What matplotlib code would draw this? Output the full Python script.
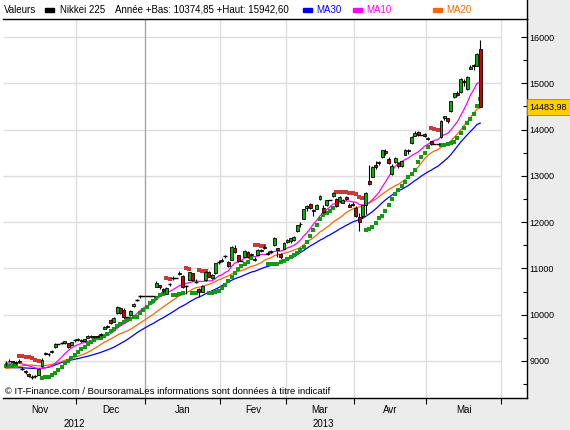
import numpy as np
import pandas as pd
import matplotlib
matplotlib.use("Agg")
import matplotlib.pyplot as plt
from matplotlib.patches import Rectangle
from matplotlib.lines import Line2D
from matplotlib.transforms import blended_transform_factory

plt.rcParams['font.family'] = ['Liberation Sans', 'DejaVu Sans']

# Nikkei 225, one entry per weekday from 1 Nov 2012 to 23 May 2013
# (market holidays repeat the previous close)
opens = [
    8960, 8990, 8990, 8950, 9010, 8840, 8790, 8720, 8665, 8670, 8700, 8890, 9180, 9150, 9200, 9300, 9367, 9400, 9380, 9380, 9350, 9440,
    9470, 9450, 9440, 9500, 9540, 9510, 9540, 9560, 9700, 9750, 9880, 9850, 10030, 10150, 10100, 9940, 9990, 10180, 10320, 10390, 10395,
    10395, 10395, 10395, 10604, 10640, 10560, 10450, 10660, 10800, 10802, 10900, 10840, 10620, 10750, 10900, 10700, 10560, 10500, 10740, 10930, 10800, 10900, 11140,
    11150, 11250, 11130, 11190, 11450, 11290, 11153, 11250, 11350, 11290, 11200, 11300, 11390, 11450, 11330, 11360, 11500, 11450, 11320, 11420,
    11580, 11600, 11620, 11800, 11950, 12070, 12300, 12390, 12270, 12290, 12500, 12300, 12380, 12468, 12560, 12500, 12460, 12420, 12540, 12360, 12380,
    12310, 12120, 12130, 12370, 12890, 12980, 13230, 13300, 13400, 13540, 13370, 13030, 13300, 13280, 13220, 13460, 13560, 13700, 13870, 13950, 13884, 13900,
    13820, 13750, 13694, 13694, 13830, 14240, 14250, 14400, 14700, 14800, 14810, 15050, 14880, 15320, 15400, 15380, 15735]
highs = [
    8990, 9040, 9000, 8990, 9050, 8860, 8810, 8730, 8700, 8690, 8840, 9060, 9200, 9180, 9230, 9380, 9367, 9420, 9440, 9390, 9410, 9470,
    9490, 9470, 9480, 9560, 9560, 9550, 9560, 9600, 9760, 9770, 9910, 9950, 10190, 10170, 10140, 9940, 10100, 10250, 10350, 10420, 10395,
    10395, 10395, 10395, 10734, 10650, 10580, 10590, 10680, 10830, 10802, 10950, 10850, 10640, 10930, 10910, 10780, 10580, 10640, 10940, 10950, 10880, 11120, 11180,
    11220, 11300, 11150, 11480, 11500, 11300, 11153, 11390, 11370, 11330, 11250, 11410, 11410, 11500, 11370, 11400, 11670, 11450, 11340, 11570,
    11640, 11660, 11700, 11940, 12000, 12290, 12380, 12420, 12290, 12400, 12580, 12370, 12480, 12468, 12650, 12520, 12560, 12500, 12560, 12420, 12430,
    12340, 12200, 12380, 12650, 13225, 13220, 13330, 13320, 13560, 13570, 13400, 13250, 13400, 13290, 13330, 13590, 13580, 13860, 13960, 13980, 13884, 13920,
    13850, 13760, 13694, 13694, 14200, 14300, 14260, 14620, 14800, 14830, 15110, 15100, 15150, 15400, 15420, 15660, 15942.6]
lows = [
    8900, 8970, 8940, 8930, 8960, 8800, 8720, 8660, 8620, 8640, 8690, 8880, 9130, 9110, 9170, 9290, 9367, 9370, 9370, 9290, 9330, 9420,
    9440, 9420, 9420, 9490, 9500, 9500, 9510, 9540, 9690, 9720, 9800, 9840, 10020, 10020, 9900, 9940, 9980, 10160, 10300, 10370, 10395,
    10395, 10395, 10395, 10598, 10550, 10470, 10440, 10610, 10760, 10802, 10860, 10580, 10440, 10740, 10720, 10680, 10375, 10490, 10730, 10810, 10780, 10890, 11100,
    11130, 11230, 11040, 11180, 11330, 11130, 11153, 11240, 11230, 11260, 11150, 11290, 11360, 11430, 11290, 11330, 11490, 11250, 11200, 11410,
    11550, 11560, 11600, 11790, 11900, 12060, 12250, 12290, 12140, 12280, 12480, 12200, 12350, 12468, 12540, 12330, 12440, 12410, 12470, 12320, 12350,
    12120, 11800, 12100, 12170, 12800, 12970, 13150, 13230, 13390, 13450, 13250, 13020, 13280, 13170, 13200, 13450, 13480, 13690, 13860, 13860, 13884, 13840,
    13780, 13670, 13694, 13694, 13820, 14200, 14150, 14390, 14680, 14720, 14800, 14940, 14860, 15300, 15290, 15370, 14483.98]
closes = [
    8946, 9007, 8975, 8974, 8973, 8837, 8758, 8676, 8661, 8665, 8830, 9024, 9153, 9143, 9223, 9367, 9367, 9389, 9423, 9308, 9401, 9446,
    9458, 9432, 9469, 9545, 9527, 9534, 9525, 9581, 9743, 9738, 9829, 9923, 10160, 10039, 9940, 9940, 10080, 10230, 10323, 10395, 10395,
    10395, 10395, 10395, 10688, 10599, 10508, 10579, 10653, 10802, 10802, 10879, 10600, 10610, 10913, 10748, 10710, 10487, 10621, 10927, 10824, 10867, 11114, 11139,
    11191, 11260, 11047, 11464, 11357, 11153, 11153, 11369, 11251, 11307, 11174, 11408, 11372, 11468, 11309, 11386, 11663, 11399, 11254, 11559,
    11606, 11652, 11683, 11932, 11968, 12284, 12349, 12315, 12240, 12381, 12561, 12221, 12468, 12468, 12636, 12339, 12546, 12472, 12494, 12336, 12398,
    12135, 12003, 12362, 12635, 12834, 13193, 13192, 13288, 13549, 13485, 13276, 13221, 13383, 13220, 13316, 13568, 13530, 13843, 13926, 13884, 13884, 13861,
    13799, 13694, 13694, 13694, 14180, 14286, 14191, 14608, 14782, 14758, 15096, 15037, 15138, 15361, 15381, 15627, 14483.98]

# closes of the 30 weekdays before 1 Nov, needed for the moving averages
pre_closes = [8986, 9110, 9069, 9091, 8906, 8949, 8870, 8797, 8786, 8746, 8824, 8863, 8863, 8769, 8596,
              8546, 8534, 8577, 8701, 8807, 8982, 9002, 9010, 8932, 8955, 9055, 8933, 8929, 8841, 8928]

# parabolic SAR dots
sar = [
    8885, 8885, 8900, 8920, 9110, 9108, 9093, 9080, 9058, 9030, 9000, 8640, 8648, 8660, 8698, 8747, 8806, 8877, 8950, 9006, 9071, 9130,
    9188, 9253, 9309, 9367, 9417, 9460, 9490, 9505, 9530, 9580, 9640, 9700, 9760, 9800, 9835, 9880, 9900, 9944, 9944, 10030, 10102,
    10173, 10245, 10296, 10367, 10425, 10450, 10790, 10771, 10425, 10425, 10440, 10470, 11000, 10987, 10460, 10470, 10960, 10950, 10940, 10470, 10470, 10500, 10519,
    10570, 10642, 10735, 10821, 10907, 10981, 11052, 11100, 11145, 11220, 11505, 11500, 11495, 11490, 11095, 11095, 11100, 11100, 11130, 11160,
    11200, 11240, 11290, 11340, 11400, 11456, 11570, 11706, 11820, 11931, 12061, 12154, 12200, 12234, 12305, 12660, 12655, 12650, 12645, 12640, 12620,
    12600, 12550, 12520, 11830, 11851, 11901, 11990, 12082, 12132, 12246, 12370, 12493, 12600, 12694, 12780, 12873, 12968, 13050, 13126, 13305, 13413, 13500,
    13616, 14030, 14010, 13990, 13666, 13666, 13680, 13700, 13737, 13810, 13918, 14026, 14134, 14220, 14335, 14508, 14660]
# g = dot below the price (green), r = dot above the price (red), one letter per weekday
sar_side = ("ggggrrrrrrrggggggggggg"
            "ggggggggggggggggggggg"
            "ggggggrrggggrrggrrrgggg"
            "ggggggggggrrrrgggggg"
            "gggggggggggggggrrrrrr"
            "rrrggggggggggggggggggg"
            "grrrggggggggggggg")

months = ['Nov', 'Dec', 'Jan', 'Fev', 'Mar', 'Avr', 'Mai']
month_starts = [0, 22, 43, 66, 86, 107, 129, 152]
years = ['2012', '2013']
year_spans = [(0, 43), (43, 152)]
year_low = 10374.85
year_high = 15942.60

W, H = 570, 430
fig = plt.figure(figsize=(W / 100, H / 100), dpi=100)
fig.patch.set_facecolor('#ECECEC')


def fx(px):
    return px / W


def fy(py):
    return 1 - py / H


fig.add_artist(Rectangle((0, fy(398)), fx(527), 398 / H, transform=fig.transFigure,
                         facecolor='white', edgecolor='none', zorder=0))

ax = fig.add_axes([fx(3), fy(398), fx(524), (398 - 19) / H])
ax.set_facecolor('white')
ax.set_xlim(-0.92, 159.3)
ax.set_ylim(8200, 16390)

idx = np.arange(len(closes))
o = np.array(opens, float)
hi = np.array(highs, float)
lo = np.array(lows, float)
c = np.array(closes, float)

# grid
bounds = [s - 0.5 for s in month_starts[1:]]
ax.hlines(range(9000, 16001, 1000), ax.get_xlim()[0], bounds[-1], color='#DEDEDE', lw=1.0, zorder=0)
for b in bounds:
    ax.axvline(b, color='#A6A6A6' if b == 42.5 else '#DEDEDE', lw=1.0, zorder=0)

# moving averages
full = pd.Series(pre_closes + closes, dtype=float)
n_pre = len(pre_closes)
for win, col in [(30, '#0000FF'), (20, '#FF6600'), (10, '#FF00FF')]:
    ma = full.rolling(win).mean().to_numpy()[n_pre:]
    ax.plot(idx, ma, color=col, lw=0.9, zorder=2)

# parabolic SAR
sar_a = np.array(sar, float)
side = np.array(list(sar_side))
ax.plot(idx[side == 'g'], sar_a[side == 'g'], 's', color='#119911', ms=2.3, mew=0, zorder=3)
ax.plot(idx[side == 'r'], sar_a[side == 'r'], 's', color='#C83A3A', ms=2.3, mew=0, zorder=3)

# candles
ax.vlines(idx, lo, hi, color='black', lw=0.8, zorder=4)
body = np.abs(c - o)
flat = body < 12
up = (c > o) & ~flat
dn = (c < o) & ~flat
ax.bar(idx[up], body[up], bottom=o[up], width=0.9, color='#00B400', edgecolor='black', lw=0.6, zorder=5)
ax.bar(idx[dn], body[dn], bottom=c[dn], width=0.9, color='#D00000', edgecolor='black', lw=0.6, zorder=5)
ax.hlines(c[flat], idx[flat] - 0.6, idx[flat] + 0.6, color='black', lw=1.0, zorder=5)

# axes styling
ax.spines['left'].set_visible(False)
for s in ['top', 'bottom', 'right']:
    ax.spines[s].set_color('black')
    ax.spines[s].set_linewidth(1.0)
ax.yaxis.tick_right()
ax.set_yticks(range(9000, 16001, 1000))
ax.set_yticklabels([str(v) for v in range(9000, 16001, 1000)])
ax.set_yticks(range(8500, 16001, 1000), minor=True)
ax.tick_params(axis='y', which='major', direction='in', length=4, width=0.8, pad=2, labelsize=6.5)
ax.tick_params(axis='y', which='minor', direction='in', length=3, width=0.8)
ax.set_xticks(bounds)
ax.set_xticklabels([])
ax.tick_params(axis='x', direction='out', length=4, width=0.8)

trans = blended_transform_factory(ax.transData, fig.transFigure)
x0 = ax.get_xlim()[0]
for k, m in enumerate(months):
    left = bounds[k - 1] if k > 0 else x0
    ax.text((left + bounds[k]) / 2, fy(410), m, transform=trans, ha='center', va='center',
            fontsize=7, clip_on=False)
for y, (a, b) in zip(years, year_spans):
    ax.text((max(a - 0.5, x0) + b - 0.5) / 2, fy(424), y, transform=trans,
            ha='center', va='center', fontsize=7, clip_on=False)

# header
fig.add_artist(Line2D([fx(527), fx(527)], [fy(0), fy(19)], color='black', lw=1.0))
fig.text(fx(4), fy(10), 'Valeurs', va='center', fontsize=7)
fig.add_artist(Rectangle((fx(45), fy(12)), fx(9), 4 / H, transform=fig.transFigure, color='black'))
fig.text(fx(60), fy(10), 'Nikkei 225', va='center', fontsize=7)
fmt = lambda v: f'{v:.2f}'.replace('.', ',')
fig.text(fx(115), fy(10), f'Année +Bas: {fmt(year_low)} +Haut: {fmt(year_high)}', va='center', fontsize=7)
for sx, tx, lab, col in [(303, 316, 'MA30', '#0000FF'), (353, 366, 'MA10', '#FF00FF'), (433, 446, 'MA20', '#FF6600')]:
    fig.add_artist(Rectangle((fx(sx), fy(12)), fx(9), 4 / H, transform=fig.transFigure, color=col))
    fig.text(fx(tx), fy(10), lab, va='center', fontsize=7, color=col)

fig.text(fx(5), fy(392), '© IT-Finance.com / BoursoramaLes informations sont données à titre indicatif',
         va='center', fontsize=6.8)

# last price label
fig.add_artist(Rectangle((fx(527), fy(115)), fx(43), 16 / H, transform=fig.transFigure,
                         facecolor='#FFCC00', edgecolor='#B08800', lw=0.6))
fig.text(fx(529), fy(107), fmt(closes[-1]), va='center', fontsize=6.5)

fig.savefig('out.png', dpi=100, facecolor=fig.get_facecolor())
